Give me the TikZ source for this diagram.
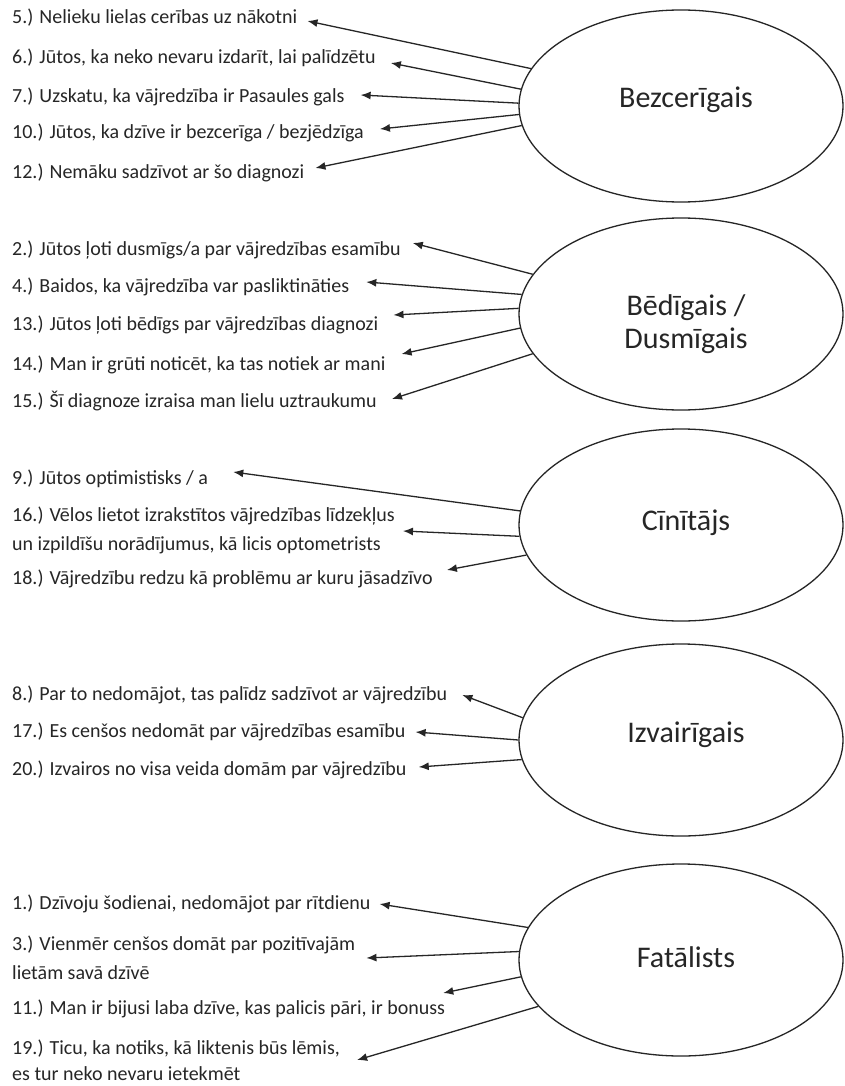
\documentclass[tikz,border=0pt]{standalone}
\usepackage{fontspec}
\setmainfont{Carlito}
\usetikzlibrary{arrows.meta,calc,shapes.geometric}
\begin{document}
\begin{tikzpicture}[x=1pt,y=-1pt,
  item/.style={anchor=west,inner sep=0pt,font=\fontsize{20}{29}\selectfont,align=left,text=black!85},
  cat/.style={ellipse,draw=black!85,line width=1.3pt,minimum width=324pt,minimum height=192pt,inner sep=0pt},
  lab/.style={inner sep=0pt,font=\fontsize{30}{33}\selectfont,align=center,text=black!85},
  arr/.style={draw=black!85,line width=1.3pt,-{Latex[length=10pt,width=8pt]}}]
\fill[white] (0,0) rectangle (844,1086);
\useasboundingbox (0,0) rectangle (844,1086);

% ellipses
\node[cat] (e1) at (681,106) {};
\node[cat] (e2) at (681,314) {};
\node[cat] (e3) at (681,525) {};
\node[cat] (e4) at (681,740) {};
\node[cat] (e5) at (681,960) {};
\node[lab] (l1) at (686,100) {Bezcerīgais};
\node[lab] (l2) at (686,324) {Bēdīgais /\\Dusmīgais};
\node[lab] (l3) at (686,523) {Cīnītājs};
\node[lab] (l4) at (686,735) {Izvairīgais};
\node[lab] (l5) at (686,957) {Fatālists};

% group 1
\node[item] (t5) at (12,18) {5.) Nelieku lielas cerības uz nākotni};
\node[item] (t6) at (12,58) {6.) Jūtos, ka neko nevaru izdarīt, lai palīdzētu};
\node[item] (t7) at (12,97) {7.) Uzskatu, ka vājredzība ir Pasaules gals};
\node[item] (t10) at (12,133) {10.) Jūtos, ka dzīve ir bezcerīga / bezjēdzīga};
\node[item] (t12) at (12,173) {12.) Nemāku sadzīvot ar šo diagnozi};
% group 2
\node[item] (t2) at (12,250) {2.) Jūtos ļoti dusmīgs/a par vājredzības esamību};
\node[item] (t4) at (12,287) {4.) Baidos, ka vājredzība var pasliktināties};
\node[item] (t13) at (12,325) {13.) Jūtos ļoti bēdīgs par vājredzības diagnozi};
\node[item] (t14) at (12,365) {14.) Man ir grūti noticēt, ka tas notiek ar mani};
\node[item] (t15) at (12,401) {15.) Šī diagnoze izraisa man lielu uztraukumu};
% group 3
\node[item] (t9) at (12,479) {9.) Jūtos optimistisks / a};
\node[item] (t16) at (12,530) {16.) Vēlos lietot izrakstītos vājredzības līdzekļus\\un izpildīšu norādījumus, kā licis optometrists};
\node[item] (t18) at (12,579) {18.) Vājredzību redzu kā problēmu ar kuru jāsadzīvo};
% group 4
\node[item] (t8) at (12,695) {8.) Par to nedomājot, tas palīdz sadzīvot ar vājredzību};
\node[item] (t17) at (12,732) {17.) Es cenšos nedomāt par vājredzības esamību};
\node[item] (t20) at (12,770) {20.) Izvairos no visa veida domām par vājredzību};
% group 5
\node[item] (t1) at (12,904) {1.) Dzīvoju šodienai, nedomājot par rītdienu};
\node[item] (t3) at (12,958) {3.) Vienmēr cenšos domāt par pozitīvajām\\lietām savā dzīvē};
\node[item] (t11) at (12,1009) {11.) Man ir bijusi laba dzīve, kas palicis pāri, ir bonuss};
\node[item,font=\fontsize{20}{26}\selectfont] (t19) at (12,1060) {19.) Ticu, ka notiks, kā liktenis būs lēmis,\\es tur neko nevaru ietekmēt};

% arrows group 1
\draw[arr] (e1.166.9) -- ($(t5.east)+(10,3)$);
\draw[arr] (e1.174.3) -- ($(t6.east)+(15,5)$);
\draw[arr] (e1.179.3) -- ($(t7.east)+(16,-2)$);
\draw[arr] (e1.183.6) -- ($(t10.east)+(16,-4)$);
\draw[arr] (e1.187.4) -- ($(t12.east)+(11,-5)$);
% group 2
\draw[arr] (e2.165.7) -- ($(t2.east)+(12,-7)$);
\draw[arr] (e2.173.2) -- ($(t4.east)+(17,-5)$);
\draw[arr] (e2.178.6) -- ($(t13.east)+(15,-10)$);
\draw[arr] (e2.185.0) -- ($(t14.east)+(16,-11)$);
\draw[arr] (e2.195.9) -- ($(t15.east)+(15,-2)$);
% group 3
\draw[arr] (e3.175.4) -- ($(t9.east)+(25,-7)$);
\draw[arr] (e3.184.3) -- ($(t16.east)+(8,1)$);
\draw[arr] (e3.191.0) -- ($(t18.east)+(14,-9)$);
% group 4
\draw[arr] (e4.172.1) -- ($(t8.east)+(15,0)$);
\draw[arr] (e4.180.7) -- ($(t17.east)+(10,0)$);
\draw[arr] (e4.187.4) -- ($(t20.east)+(12,-3)$);
% group 5
\draw[arr] (e5.168.6) -- ($(t1.east)+(9,0)$);
\draw[arr] (e5.177.5) -- ($(t3.east)+(11,0)$);
\draw[arr] (e5.186.5) -- ($(t11.east)+(-2,-16)$);
\draw[arr] (e5.198.6) -- ($(t19.east)+(17,0)$);
\end{tikzpicture}
\end{document}
